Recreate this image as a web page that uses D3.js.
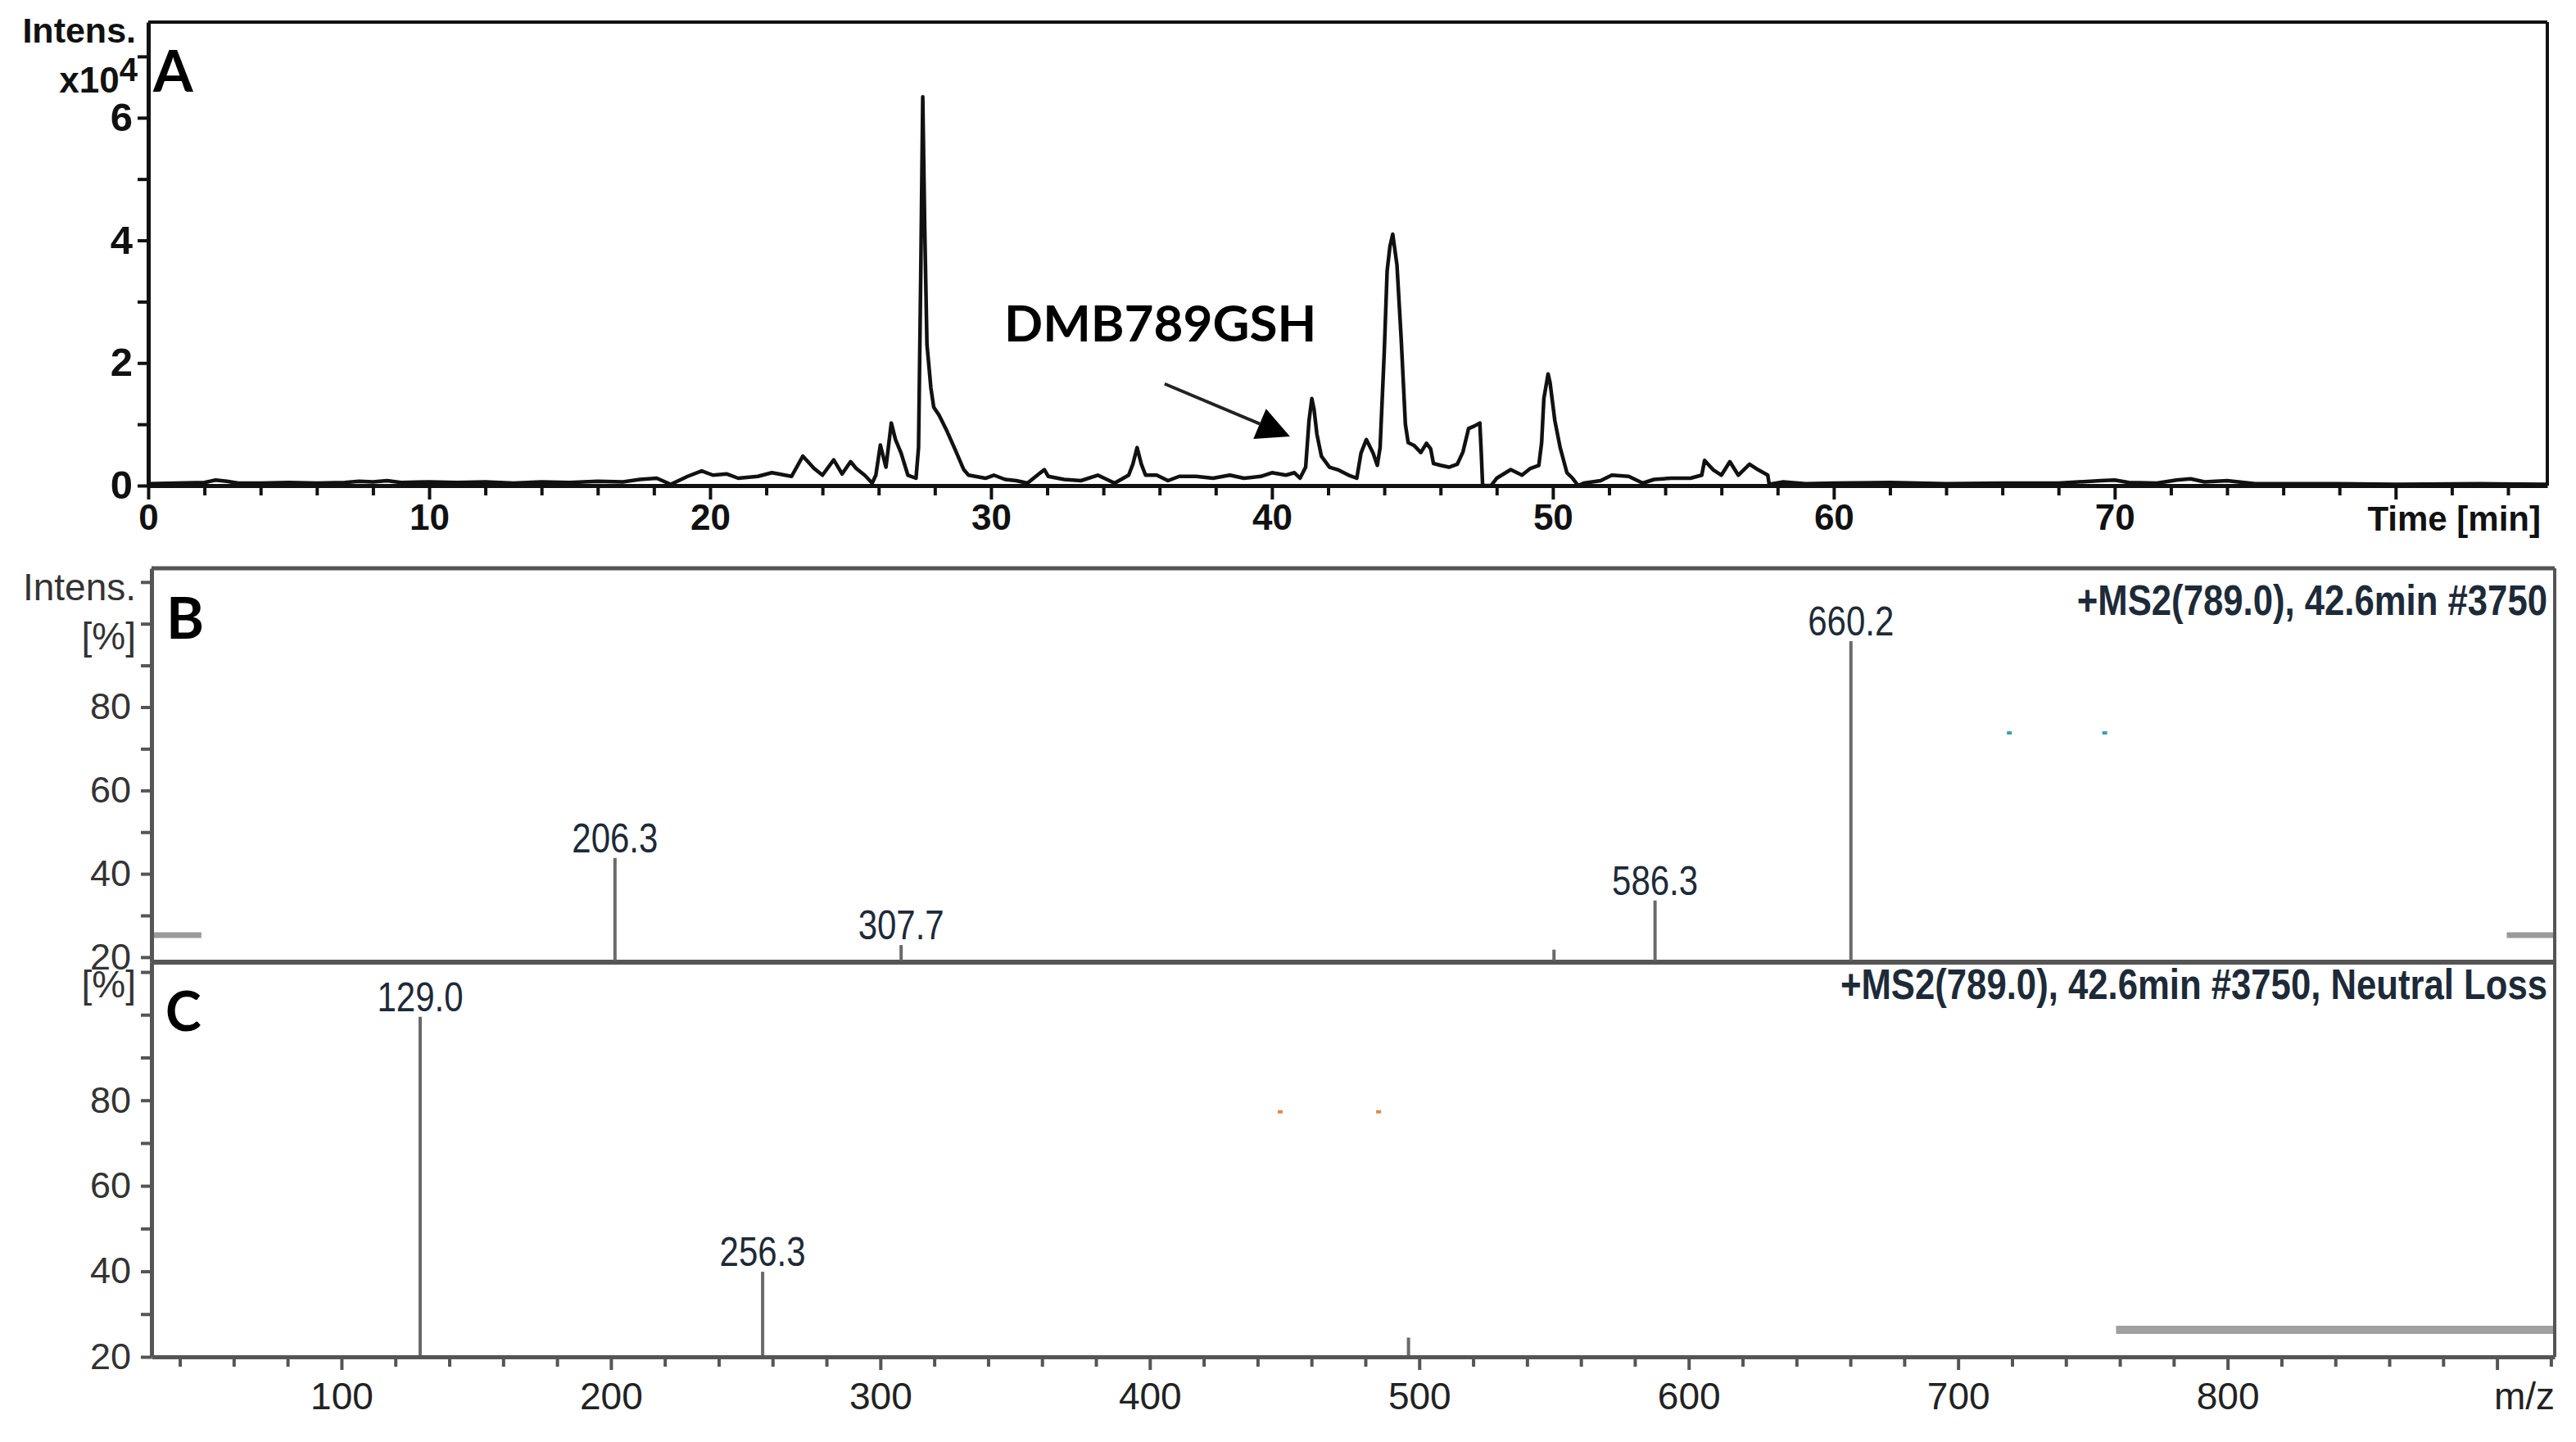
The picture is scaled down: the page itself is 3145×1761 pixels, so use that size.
<!DOCTYPE html>
<html><head><meta charset="utf-8">
<script src="https://cdn.jsdelivr.net/npm/d3@7"></script>
<style>body{margin:0;background:#fff}svg{display:block}</style>
</head><body><svg id="c" width="3145" height="1761"></svg>
<script>
// ---------- DATA ----------
// Panel A: chromatogram, time (min) vs intensity (x10^4)
const timeMin = [0.0,1.0,2.0,2.4,2.8,3.2,4.0,5.0,6.0,7.0,7.5,8.0,8.5,9.0,10.0,11.0,12.0,13.0,14.0,15.0,16.0,16.9,17.5,18.1,18.6,19.2,19.7,20.1,20.6,21.0,21.7,22.2,22.9,23.3,23.7,24.0,24.4,24.7,25.0,25.2,25.5,25.77,25.9,26.06,26.26,26.45,26.6,26.8,27.04,27.33,27.42,27.5,27.57,27.64,27.72,27.86,27.96,28.15,28.44,28.74,29.03,29.2,29.8,30.1,30.5,30.9,31.3,31.65,31.9,32.04,32.6,33.2,33.8,34.4,34.9,35.05,35.2,35.35,35.5,35.9,36.3,36.7,37.3,37.9,38.5,39.0,39.6,40.0,40.5,40.8,41.0,41.2,41.32,41.42,41.5,41.6,41.76,42.05,42.34,42.73,43.02,43.17,43.36,43.6,43.75,43.85,44.0,44.1,44.2,44.3,44.45,44.6,44.75,44.85,45.07,45.3,45.5,45.65,45.75,46.0,46.3,46.6,46.8,47.0,47.2,47.4,47.45,47.5,47.8,48.0,48.5,48.9,49.2,49.5,49.6,49.68,49.83,49.9,50.07,50.26,50.5,50.7,50.9,51.1,51.7,52.1,52.7,53.2,53.6,54.2,54.9,55.3,55.4,55.7,56.0,56.3,56.6,57.0,57.3,57.65,57.7,58.2,59.0,60.0,62.0,64.0,66.0,68.0,69.5,70.0,70.5,71.5,72.2,72.7,73.2,74.0,75.0,78.0,80.0,83.0,85.4];
const intensity = [0.03,0.04,0.05,0.09,0.07,0.04,0.04,0.05,0.04,0.05,0.07,0.06,0.08,0.05,0.06,0.05,0.06,0.04,0.06,0.05,0.07,0.06,0.10,0.12,0.02,0.15,0.24,0.17,0.19,0.12,0.15,0.21,0.15,0.48,0.28,0.17,0.42,0.19,0.39,0.28,0.17,0.04,0.17,0.66,0.30,1.02,0.75,0.53,0.17,0.12,0.62,3.5,6.34,4.2,2.3,1.59,1.28,1.15,0.88,0.57,0.26,0.17,0.12,0.17,0.10,0.08,0.04,0.17,0.26,0.15,0.10,0.08,0.17,0.04,0.17,0.35,0.62,0.35,0.17,0.17,0.08,0.15,0.15,0.12,0.17,0.12,0.15,0.21,0.17,0.21,0.12,0.30,1.06,1.42,1.24,0.84,0.48,0.30,0.26,0.17,0.12,0.53,0.75,0.53,0.33,0.62,2.2,3.5,3.9,4.1,3.6,2.4,1.0,0.7,0.65,0.54,0.69,0.60,0.36,0.33,0.30,0.35,0.55,0.93,0.97,1.02,0.55,0.0,0.0,0.12,0.26,0.17,0.28,0.33,0.70,1.42,1.82,1.68,1.06,0.62,0.21,0.12,0.0,0.04,0.08,0.17,0.15,0.04,0.10,0.12,0.12,0.17,0.41,0.26,0.17,0.39,0.17,0.35,0.26,0.17,0.02,0.06,0.03,0.04,0.05,0.03,0.04,0.04,0.08,0.09,0.05,0.04,0.09,0.11,0.06,0.08,0.03,0.03,0.02,0.03,0.02];
const aYTicks = [0,1,2,3,4,5,6,7];
const aYLabelled = [0,2,4,6];
const aXTicks = d3.range(0, 85, 2);
const aXLabelled = [0,10,20,30,40,50,60,70];
// annotation (data coordinates of panel A)
const annText = "DMB789GSH";
const annTextAt = [30.47, 2.35];
const annArrowFrom = [36.18, 1.66];
const annArrowTo = [40.64, 0.80];

// Panel B: MS2 spectrum, m/z vs relative intensity (%)
const mzB = [201.5, 307.7, 550.0, 587.5, 660.2];
const intB = [43.8, 22.9, 21.8, 33.6, 95.8];
const labelB = ["206.3", "307.7", "", "586.3", "660.2"];
const titleB = "+MS2(789.0), 42.6min #3750";
// Panel C: neutral loss spectrum
const mzC = [129.2, 256.3, 496.0];
const intC = [99.5, 39.9, 24.5];
const labelC = ["129.0", "256.3", ""];
const titleC = "+MS2(789.0), 42.6min #3750, Neutral Loss";
// small grey/colour artefacts visible in the spectra
const barsB = [[29.5, 48.0, 25.3], [903.6, 921.4, 25.3]];
const barsC = [[758.6, 921.4, 26.3]];
const dotsB = [[719, 73.8], [754.4, 73.8]];
const dotsC = [[448.4, 77.3], [484.9, 77.3]];

const pctTicks = d3.range(20, 111, 10);
const pctLabelled = [20, 40, 60, 80];
const mzTicks = d3.range(40, 921, 20);
const mzLabelled = [100, 200, 300, 400, 500, 600, 700, 800];

// ---------- LAYOUT ----------
const A = {l: 181, r: 3110, t: 27, b: 593};
const M = {l: 185, r: 3119, tB: 694, mid: 1175, bC: 1657};
const F_AR = "'Liberation Sans', Arial, Helvetica, sans-serif";
const F_CAL = "Lato, 'Open Sans', sans-serif";
const GREY = "#555";
const LBL = "#1d2a38";
const NARROW = 0.84;   // horizontal squeeze emulating a narrow face

const svg = d3.select("#c");
svg.append("rect").attr("width", 3145).attr("height", 1761).attr("fill", "#fff");

// ---------- PANEL A ----------
const xA = d3.scaleLinear().domain([0, 85.4]).range([A.l, A.r]);
const yA = d3.scaleLinear().domain([0, 7.56]).range([A.b, A.t]);

const gA = svg.append("g");
gA.append("line").attr("x1", A.l).attr("x2", A.r).attr("y1", A.t).attr("y2", A.t).attr("stroke", "#111").attr("stroke-width", 4);
gA.append("line").attr("x1", A.r).attr("x2", A.r).attr("y1", A.t).attr("y2", A.b).attr("stroke", "#111").attr("stroke-width", 4);

const axAy = d3.axisLeft(yA).tickValues(aYTicks).tickSize(13).tickSizeOuter(0).tickPadding(6)
  .tickFormat(d => aYLabelled.includes(d) ? String(d) : "");
const gAy = gA.append("g").attr("transform", `translate(${A.l},0)`).call(axAy);
gAy.select(".domain").attr("stroke", "#111").attr("stroke-width", 5);
gAy.selectAll(".tick line").attr("stroke", "#111").attr("stroke-width", 4);
gAy.selectAll(".tick text").attr("font-family", F_AR).attr("font-weight", "bold").attr("font-size", 49).attr("fill", "#111");

const axAx = d3.axisBottom(xA).tickValues(aXTicks).tickSize(13).tickSizeOuter(0).tickPadding(10)
  .tickFormat(d => aXLabelled.includes(d) ? String(d) : "");
const gAx = gA.append("g").attr("transform", `translate(0,${A.b})`).call(axAx);
gAx.select(".domain").attr("stroke", "#111").attr("stroke-width", 5);
gAx.selectAll(".tick line").attr("stroke", "#111").attr("stroke-width", 4)
  .attr("y2", d => d % 10 === 0 ? 17 : 12);
gAx.selectAll(".tick text").attr("font-family", F_AR).attr("font-weight", "bold").attr("font-size", 44).attr("fill", "#111");

// trace
const pts = timeMin.map((t, i) => [t, intensity[i]]);
gA.append("path").datum(pts)
  .attr("d", d3.line().x(d => xA(d[0])).y(d => yA(d[1])))
  .attr("fill", "none").attr("stroke", "#111").attr("stroke-width", 4.5)
  .attr("stroke-linejoin", "round");

// labels
gA.append("text").attr("x", 166).attr("y", 52).attr("text-anchor", "end")
  .attr("font-family", F_AR).attr("font-weight", "bold").attr("font-size", 43).attr("fill", "#111").text("Intens.");
const t104 = gA.append("text").attr("x", 168).attr("y", 113).attr("text-anchor", "end")
  .attr("font-family", F_AR).attr("font-weight", "bold").attr("font-size", 44).attr("fill", "#111");
t104.append("tspan").text("x10");
t104.append("tspan").attr("dy", -14).attr("font-size", 40).text("4");
gA.append("text").attr("x", 3102).attr("y", 648).attr("text-anchor", "end")
  .attr("font-family", F_AR).attr("font-weight", "bold").attr("font-size", 42).attr("fill", "#111")
  .text("Time [min]");
gA.append("text").attr("x", 187).attr("y", 112)
  .attr("font-family", F_CAL).attr("font-weight", "bold").attr("font-size", 70).attr("fill", "#000").text("A");

// annotation
gA.append("text").attr("x", xA(annTextAt[0])).attr("y", yA(annTextAt[1]))
  .attr("font-family", F_CAL).attr("font-weight", "bold").attr("font-size", 62).attr("fill", "#000")
  .text(annText);
{
  const x0 = xA(annArrowFrom[0]), y0 = yA(annArrowFrom[1]);
  const x1 = xA(annArrowTo[0]), y1 = yA(annArrowTo[1]);
  const dx = x1 - x0, dy = y1 - y0, L = Math.hypot(dx, dy);
  const ux = dx / L, uy = dy / L, hl = 40, hw = 20;
  const bx = x1 - ux * hl, by = y1 - uy * hl;
  gA.append("line").attr("x1", x0).attr("y1", y0).attr("x2", bx).attr("y2", by)
    .attr("stroke", "#222").attr("stroke-width", 4);
  gA.append("path").attr("d", `M${x1},${y1}L${bx - uy * hw},${by + ux * hw}L${bx + uy * hw},${by - ux * hw}Z`)
    .attr("fill", "#000");
}

// ---------- PANELS B & C ----------
const xM = d3.scaleLinear().domain([29.5, 921.4]).range([M.l, M.r]);
const yB = d3.scaleLinear().domain([18.8, 113.3]).range([M.mid, M.tB]);
const yC = d3.scaleLinear().domain([20, 112.3]).range([M.bC, M.mid]);

const gM = svg.append("g");
barsB.forEach(b => gM.append("line").attr("x1", xM(b[0])).attr("x2", xM(b[1])).attr("y1", yB(b[2])).attr("y2", yB(b[2]))
  .attr("stroke", "#9a9a9a").attr("stroke-width", 7));
barsC.forEach(b => gM.append("line").attr("x1", xM(b[0])).attr("x2", xM(b[1])).attr("y1", yC(b[2])).attr("y2", yC(b[2]))
  .attr("stroke", "#a0a0a0").attr("stroke-width", 10));
dotsB.forEach(d => gM.append("rect").attr("x", xM(d[0]) - 3).attr("y", yB(d[1]) - 2).attr("width", 6).attr("height", 4).attr("fill", "#3aa0b0"));
dotsC.forEach(d => gM.append("rect").attr("x", xM(d[0]) - 3).attr("y", yC(d[1]) - 2).attr("width", 6).attr("height", 4).attr("fill", "#e08a50"));

gM.append("line").attr("x1", M.l).attr("x2", M.r).attr("y1", M.tB).attr("y2", M.tB).attr("stroke", GREY).attr("stroke-width", 5);
gM.append("line").attr("x1", M.r).attr("x2", M.r).attr("y1", M.tB).attr("y2", M.bC).attr("stroke", GREY).attr("stroke-width", 4);
gM.append("line").attr("x1", M.l).attr("x2", M.r).attr("y1", M.mid).attr("y2", M.mid).attr("stroke", GREY).attr("stroke-width", 6);

function styleY(g) {
  g.select(".domain").attr("stroke", GREY).attr("stroke-width", 5);
  g.selectAll(".tick line").attr("stroke", GREY).attr("stroke-width", 4);
  g.selectAll(".tick text").attr("font-family", F_AR).attr("font-size", 45).attr("fill", "#333");
}
const gBy = gM.append("g").attr("transform", `translate(${M.l},0)`)
  .call(d3.axisLeft(yB).tickValues(pctTicks).tickSize(13).tickSizeOuter(0).tickPadding(12)
    .tickFormat(d => pctLabelled.includes(d) ? String(d) : ""));
styleY(gBy);
const gCy = gM.append("g").attr("transform", `translate(${M.l},0)`)
  .call(d3.axisLeft(yC).tickValues(pctTicks).tickSize(13).tickSizeOuter(0).tickPadding(12)
    .tickFormat(d => pctLabelled.includes(d) ? String(d) : ""));
styleY(gCy);

const gCx = gM.append("g").attr("transform", `translate(0,${M.bC})`)
  .call(d3.axisBottom(xM).tickValues(mzTicks).tickSize(13).tickSizeOuter(0).tickPadding(18)
    .tickFormat(d => mzLabelled.includes(d) ? String(d) : ""));
gCx.select(".domain").attr("stroke", GREY).attr("stroke-width", 5);
gCx.selectAll(".tick line").attr("stroke", GREY).attr("stroke-width", 4)
  .attr("y2", d => d % 100 === 0 ? 16 : 12);
gCx.selectAll(".tick text").attr("font-family", F_AR).attr("font-size", 46).attr("fill", "#222");

function narrowText(g, x, y, anchor, size, weight, str) {
  g.append("text")
    .attr("transform", `translate(${x},${y}) scale(${NARROW},1)`)
    .attr("text-anchor", anchor)
    .attr("font-family", F_AR).attr("font-weight", weight).attr("font-size", size).attr("fill", LBL)
    .text(str);
}
function peaks(mz, val, labels, y, base) {
  mz.forEach((m, i) => {
    gM.append("line").attr("x1", xM(m)).attr("x2", xM(m)).attr("y1", base).attr("y2", y(val[i]))
      .attr("stroke", "#6a6a6a").attr("stroke-width", 4);
    if (labels[i]) narrowText(gM, xM(m), y(val[i]) - 7, "middle", 50, "normal", labels[i]);
  });
}
peaks(mzB, intB, labelB, yB, M.mid - 2);
peaks(mzC, intC, labelC, yC, M.bC - 2);

narrowText(gM, 3110, 751, "end", 52, "bold", titleB);
narrowText(gM, 3110, 1220, "end", 52, "bold", titleC);

gM.append("text").attr("x", 166).attr("y", 733).attr("text-anchor", "end")
  .attr("font-family", F_AR).attr("font-size", 46).attr("fill", "#333").text("Intens.");
gM.append("text").attr("x", 166).attr("y", 793).attr("text-anchor", "end")
  .attr("font-family", F_AR).attr("font-size", 46).attr("fill", "#333").text("[%]");
gM.append("text").attr("x", 166).attr("y", 1218).attr("text-anchor", "end")
  .attr("font-family", F_AR).attr("font-size", 46).attr("fill", "#333").text("[%]");
gM.append("text").attr("x", 3119).attr("y", 1721).attr("text-anchor", "end")
  .attr("font-family", F_AR).attr("font-size", 46).attr("fill", "#222").text("m/z");
gM.append("text").attr("x", 203).attr("y", 780)
  .attr("font-family", F_CAL).attr("font-weight", "bold").attr("font-size", 70).attr("fill", "#000").text("B");
gM.append("text").attr("x", 202).attr("y", 1259)
  .attr("font-family", F_CAL).attr("font-weight", "bold").attr("font-size", 66).attr("fill", "#000").text("C");
</script></body></html>
